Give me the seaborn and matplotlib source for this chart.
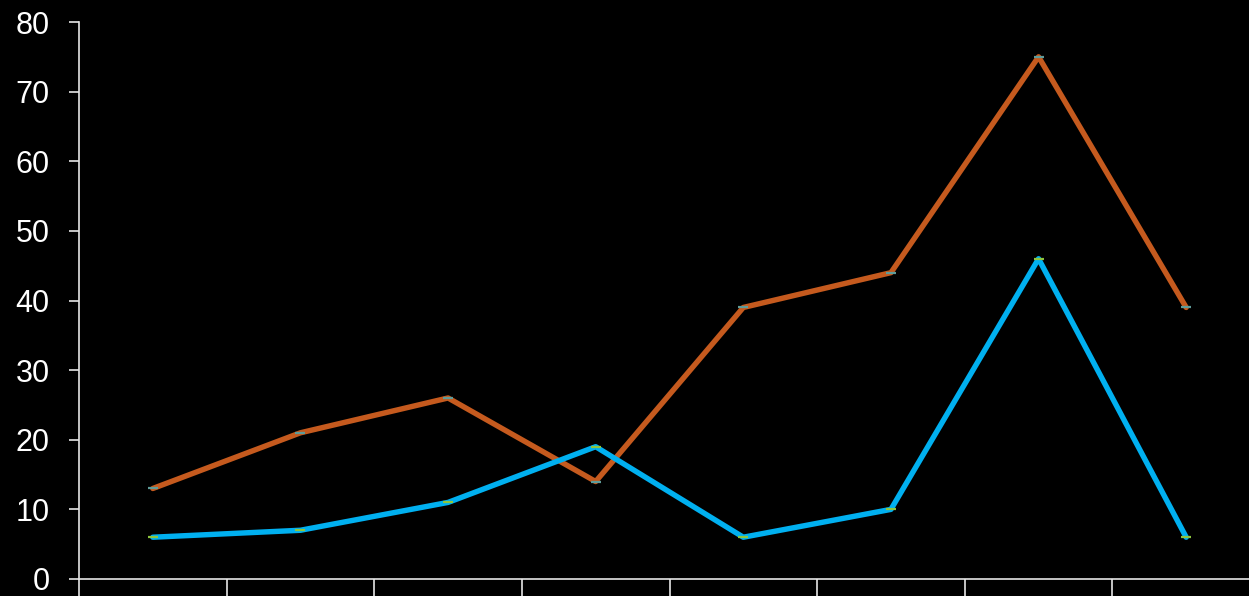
import pandas as pd
import matplotlib
matplotlib.use('Agg')
import matplotlib.pyplot as plt
import seaborn as sns

# Data
categories = ['1', '2', '3', '4', '5', '6', '7', '8']
orange_values = [13, 21, 26, 14, 39, 44, 75, 39]
blue_values = [6, 7, 11, 19, 6, 10, 46, 6]
y_ticks = [0, 10, 20, 30, 40, 50, 60, 70, 80]

orange_df = pd.DataFrame({'Category': categories, 'Value': orange_values})
blue_df = pd.DataFrame({'Category': categories, 'Value': blue_values})

sns.set_style('dark')
plt.rcParams['font.family'] = ['Liberation Sans', 'DejaVu Sans']

fig = plt.figure(figsize=(12.49, 5.96), dpi=100, facecolor='black')
ax = fig.add_axes([79 / 1249, 17 / 596, 1181 / 1249, 557 / 596])
ax.set_facecolor('black')

sns.lineplot(x='Category', y='Value', data=orange_df, color='#C55A1E', linewidth=3.9,
             marker='_', markersize=7, markeredgewidth=1.6, markeredgecolor='#5f9c9a', ax=ax)
sns.lineplot(x='Category', y='Value', data=blue_df, color='#00B0F0', linewidth=3.9,
             marker='_', markersize=7, markeredgewidth=1.6, markeredgecolor='#8DC63F', ax=ax)

ax.set_xlim(-0.5, len(categories) - 0.5)
ax.set_ylim(0, 80)
ax.set_yticks(y_ticks)
ax.set_yticklabels([str(t) for t in y_ticks])
ax.set_xticks([i - 0.5 for i in range(len(categories) + 1)])
ax.set_xticklabels([])
ax.set_xlabel('')
ax.set_ylabel('')
ax.grid(False)

for side in ['top', 'right']:
    ax.spines[side].set_visible(False)
for side in ['left', 'bottom']:
    ax.spines[side].set_visible(True)
    ax.spines[side].set_color('#e6e6e6')
    ax.spines[side].set_linewidth(1.2)

ax.tick_params(axis='y', colors='white', labelsize=22, length=7, width=1.2,
               color='#e6e6e6', pad=14, left=True)
ax.tick_params(axis='x', length=20, width=1.2, color='#e6e6e6', bottom=True)

plt.savefig('out.png', dpi=100, facecolor='black')
